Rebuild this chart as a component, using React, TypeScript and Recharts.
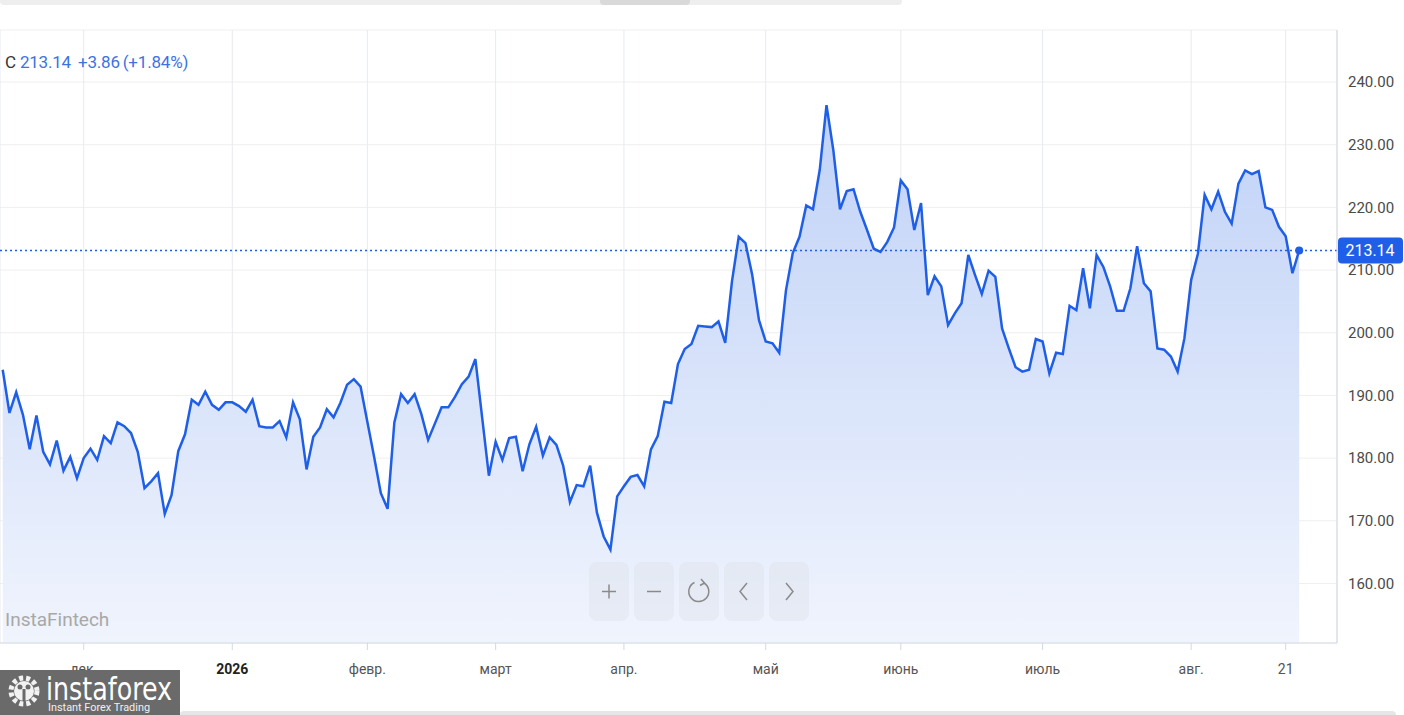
import React from 'react';
import {
  ComposedChart,
  Area,
  XAxis,
  YAxis,
  CartesianGrid,
  ReferenceLine,
  ReferenceDot,
} from 'recharts';

const prices: number[] = [
  194.1, 187.2, 190.5, 186.9, 181.4, 186.8, 181.0, 179.0, 182.8, 178.0,
  180.2, 176.8, 180.0, 181.5, 179.7, 183.5, 182.4, 185.7, 185.1, 184.0,
  181.0, 175.2, 176.3, 177.6, 171.1, 174.1, 181.1, 183.8, 189.3, 188.5,
  190.6, 188.5, 187.7, 188.9, 188.9, 188.3, 187.4, 189.3, 185.1, 184.9,
  184.9, 185.9, 183.3, 188.9, 186.2, 178.2, 183.4, 184.9, 187.8, 186.5,
  188.8, 191.7, 192.6, 191.4, 185.8, 180.2, 174.4, 171.9, 185.7, 190.2,
  188.8, 190.2, 187.0, 182.9, 185.5, 188.1, 188.1, 189.8, 191.8, 193.0,
  195.8, 186.5, 177.2, 182.6, 179.7, 183.2, 183.4, 177.9, 182.2, 185.0,
  180.4, 183.3, 182.1, 178.8, 173.0, 175.7, 175.5, 178.8, 171.3, 167.5,
  165.4, 173.9, 175.5, 177.0, 177.3, 175.5, 181.4, 183.5, 189.0, 188.8,
  195.0, 197.4, 198.2, 201.1, 201.0, 200.9, 201.8, 198.4, 208.2, 215.3,
  214.3, 209.2, 202.0, 198.6, 198.3, 196.8, 206.8, 212.7, 215.3, 220.3,
  219.7, 226.0, 236.3, 229.2, 219.7, 222.6, 222.9, 219.3, 216.4, 213.4,
  212.9, 214.5, 216.8, 224.3, 222.9, 216.4, 220.7, 206.0, 209.0, 207.4,
  201.2, 203.1, 204.7, 212.4, 209.2, 206.2, 209.9, 208.9, 200.7, 197.5,
  194.5, 193.8, 194.1, 199.0, 198.6, 193.5, 196.8, 196.6, 204.3, 203.6,
  210.3, 203.9, 212.4, 210.5, 207.4, 203.5, 203.5, 207.1, 213.8, 207.9,
  206.6, 197.5, 197.3, 196.2, 193.8, 199.1, 208.4, 212.6, 222.0, 219.7,
  222.5, 219.3, 217.4, 223.8, 225.9, 225.3, 225.8, 220.0, 219.6, 216.9,
  215.4, 209.5, 213.14,
];

const monthTickIndex: number[] = [12, 34, 54, 73, 92, 113, 133, 154, 176, 190];
const monthTickLabels: string[] = ['дек.', '2026', 'февр.', 'март', 'апр.', 'май', 'июнь', 'июль', 'авг.', '21'];
const priceTicks: number[] = [160, 170, 180, 190, 200, 210, 220, 230, 240];

const lastPrice = prices[prices.length - 1];
const change = 3.86;
const changePct = 1.84;

const data = prices.map((p, i) => ({ i, p }));

const BLUE = '#1f5fe8';
const FONT = 'Roboto, "Noto Sans", sans-serif';

const XTick = (props: any) => {
  const { x, y, payload } = props;
  const idx = monthTickIndex.indexOf(payload.value);
  const label = idx >= 0 ? monthTickLabels[idx] : '';
  const bold = label === '2026';
  return (
    <text
      x={x}
      y={y + 3}
      dy="0.71em"
      textAnchor="middle"
      fontFamily={FONT}
      fontSize={14}
      fontWeight={bold ? 700 : 400}
      fill={bold ? '#222' : '#555'}
    >
      {label}
    </text>
  );
};

const PriceTag = (props: any) => {
  const vb = props.viewBox || {};
  const x = (vb.x || 0) + (vb.width || 0) + 1;
  const y = vb.y || 0;
  return (
    <g>
      <rect x={x} y={y - 13} width={65} height={26} rx={4} fill={BLUE} />
      <text
        x={x + 32}
        y={y + 1}
        textAnchor="middle"
        dominantBaseline="middle"
        fontFamily={FONT}
        fontSize={16}
        fill="#fff"
      >
        {lastPrice.toFixed(2)}
      </text>
    </g>
  );
};

const btnBase: React.CSSProperties = {
  position: 'absolute',
  top: 562,
  width: 40,
  height: 59,
  borderRadius: 8,
  background: 'rgba(222,227,236,0.45)',
};

const ZoomButtons = () => {
  const lefts = [589, 634, 679, 724, 769];
  return (
    <>
      {lefts.map((l, k) => (
        <div key={k} style={{ ...btnBase, left: l }}>
          <svg width={40} height={59} style={{ position: 'absolute', left: 0, top: 0 }}>
            {k === 0 && (
              <g stroke="#8a8a8a" strokeWidth={1.5}>
                <line x1={13} y1={29.5} x2={27} y2={29.5} />
                <line x1={20} y1={22.5} x2={20} y2={36.5} />
              </g>
            )}
            {k === 1 && (
              <line x1={13} y1={29.5} x2={27} y2={29.5} stroke="#8a8a8a" strokeWidth={1.5} />
            )}
            {k === 2 && (
              <g fill="none" stroke="#8a8a8a" strokeWidth={1.5}>
                <path d="M 25 21 A 10 10 0 1 1 15.5 20.5" />
                <polyline points="22,17 25.5,21 21,23.5" />
              </g>
            )}
            {k === 3 && (
              <polyline points="23,21 16,29.5 23,38" fill="none" stroke="#8a8a8a" strokeWidth={1.5} />
            )}
            {k === 4 && (
              <polyline points="17,21 24,29.5 17,38" fill="none" stroke="#8a8a8a" strokeWidth={1.5} />
            )}
          </svg>
        </div>
      ))}
    </>
  );
};

const Logo = () => (
  <svg width={180} height={45} style={{ position: 'absolute', left: 0, top: 670 }}>
    <rect x={0} y={0} width={180} height={45} fill="#6a6a6a" />
    <g transform="translate(24,21)">
      <circle r={13} fill="none" stroke="#f2f2f2" strokeWidth={5} strokeDasharray="4 3" />
      <circle r={10} fill="#f2f2f2" />
      <circle cx={-4} cy={-4} r={2.5} fill="#6a6a6a" />
      <circle cx={4} cy={-4} r={2.5} fill="#6a6a6a" />
      <rect x={-1.5} y={-2} width={3} height={12} fill="#6a6a6a" />
    </g>
    <text
      x={46}
      y={30}
      fontFamily='"Liberation Sans Narrow", "DejaVu Sans Condensed", Roboto, sans-serif'
      fontSize={32}
      fontWeight={300}
      fill="#ffffff"
      textLength={126}
      lengthAdjust="spacingAndGlyphs"
    >
      instaforex
    </text>
    <text
      x={48}
      y={41}
      fontFamily='"Liberation Sans Narrow", Roboto, sans-serif'
      fontSize={11}
      fill="#f0f0f0"
      textLength={102}
      lengthAdjust="spacingAndGlyphs"
    >
      Instant Forex Trading
    </text>
  </svg>
);

export default function App() {
  return (
    <div
      style={{
        position: 'absolute',
        left: 0,
        top: 0,
        width: 1404,
        height: 715,
        background: '#ffffff',
        overflow: 'hidden',
      }}
    >
      {/* top scroll bar */}
      <div
        style={{
          position: 'absolute',
          left: 0,
          top: -3,
          width: 902,
          height: 8,
          borderRadius: 4,
          background: '#eeeeee',
        }}
      />
      <div
        style={{
          position: 'absolute',
          left: 600,
          top: -3,
          width: 90,
          height: 8,
          borderRadius: 4,
          background: '#d9d9d9',
        }}
      />
      <ComposedChart
        width={1404}
        height={715}
        data={data}
        margin={{ top: 30, right: 0, bottom: 0, left: 0 }}
      >
        <defs>
          <linearGradient id="areaFill" x1="0" y1="0" x2="0" y2="1">
            <stop offset="0%" stopColor="#c0d2f7" stopOpacity={1} />
            <stop offset="100%" stopColor="#f0f4fd" stopOpacity={1} />
          </linearGradient>
        </defs>
        <CartesianGrid horizontal={true} vertical={false} stroke="#efefef" />
        <CartesianGrid horizontal={false} vertical={true} stroke="#e7eaf0" />
        <XAxis
          dataKey="i"
          type="number"
          domain={[-0.4, 197.6]}
          ticks={monthTickIndex}
          interval={0}
          height={72}
          tick={<XTick />}
          tickSize={7}
          tickMargin={11}
          axisLine={{ stroke: '#d3d9e2' }}
          tickLine={{ stroke: '#d3d9e2' }}
          allowDataOverflow
        />
        <YAxis
          orientation="right"
          type="number"
          domain={[150.5, 248.3]}
          ticks={priceTicks}
          interval={0}
          width={67}
          tickSize={0}
          tickMargin={11}
          tickFormatter={(v: number) => v.toFixed(2)}
          tick={{ fontFamily: FONT, fontSize: 15, fill: '#4a4a4a', textAnchor: 'start' }}
          axisLine={{ stroke: '#d3d9e2' }}
          tickLine={false}
          allowDataOverflow
        />
        <Area
          type="linear"
          dataKey="p"
          stroke={BLUE}
          strokeWidth={2.5}
          fill="url(#areaFill)"
          fillOpacity={1}
          baseValue="dataMin"
          dot={false}
          activeDot={false}
          isAnimationActive={false}
        />
        <ReferenceLine
          y={lastPrice}
          stroke={BLUE}
          strokeWidth={1.5}
          strokeDasharray="2 3"
          label={(p: any) => <PriceTag {...p} />}
        />
        <ReferenceDot x={prices.length - 1} y={lastPrice} r={4} fill={BLUE} stroke="none" />
      </ComposedChart>

      {/* legend */}
      <div
        style={{
          position: 'absolute',
          left: 5,
          top: 51,
          fontFamily: FONT,
          fontSize: 17,
          letterSpacing: -0.2,
          whiteSpace: 'nowrap',
          lineHeight: '22px',
        }}
      >
        <span style={{ color: '#333' }}>C</span>
        <span style={{ color: '#3d72e4', marginLeft: 4 }}>{lastPrice.toFixed(2)}</span>
        <span style={{ color: '#3d72e4', marginLeft: 7 }}>+{change.toFixed(2)}</span>
        <span style={{ color: '#3d72e4', marginLeft: 3 }}>(+{changePct.toFixed(2)}%)</span>
      </div>

      {/* watermark */}
      <div
        style={{
          position: 'absolute',
          left: 5,
          top: 607,
          fontFamily: FONT,
          fontSize: 19,
          color: '#a8a8a8',
          lineHeight: '26px',
        }}
      >
        InstaFintech
      </div>

      <ZoomButtons />
      <Logo />

      {/* bottom bar */}
      <div
        style={{
          position: 'absolute',
          left: 180,
          top: 711,
          width: 1216,
          height: 8,
          borderRadius: 4,
          background: '#e6e6e6',
        }}
      />
    </div>
  );
}
